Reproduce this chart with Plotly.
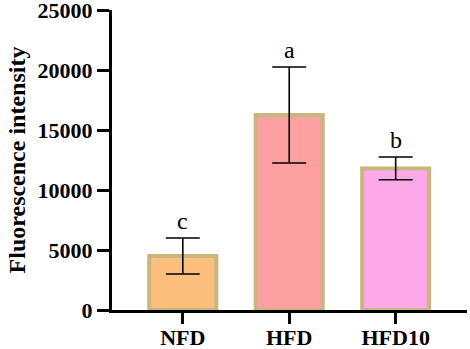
import plotly.graph_objects as go

categories = ["NFD", "HFD", "HFD10"]
means = [4500, 16250, 11800]
errors = [1500, 4000, 950]
letters = ["c", "a", "b"]
fill_colors = ["#FDBF7E", "#FDA0A2", "#FDA9E9"]
border_color = "#C8B67C"
y_ticks = [0, 5000, 10000, 15000, 20000, 25000]

fig = go.Figure()
fig.add_trace(go.Bar(
    x=categories, y=means, width=0.63,
    marker=dict(color=fill_colors, line=dict(color=border_color, width=4)),
    error_y=dict(type="data", array=errors, visible=True, color="black",
                 thickness=1.6, width=17),
    showlegend=False,
))

for c, m, e, t in zip(categories, means, errors, letters):
    fig.add_annotation(x=c, y=m + e, text=t, showarrow=False, yanchor="bottom",
                       yshift=2, font=dict(family="Liberation Serif", size=24, color="black"))

fig.update_layout(
    width=470, height=349,
    margin=dict(l=112, r=3, t=10, b=39),
    plot_bgcolor="white", paper_bgcolor="white",
    font=dict(family="Liberation Serif", color="black"),
)
fig.update_xaxes(
    range=[-0.665, 2.67], showline=True, linewidth=3, linecolor="black",
    ticks="outside", ticklen=11, tickwidth=3, tickcolor="black",
    tickfont=dict(family="Liberation Serif", size=22, color="black", weight="bold"),
    ticklabelstandoff=-5, ticklabeloverflow="allow",
    showgrid=False, zeroline=False, automargin=False,
)
fig.update_yaxes(
    range=[0, 25001], tickvals=y_ticks, ticktext=[str(v) for v in y_ticks],
    showline=True, linewidth=3, linecolor="black",
    ticks="outside", ticklen=12, tickwidth=3, tickcolor="black",
    tickfont=dict(family="Liberation Serif", size=22, color="black", weight="bold"),
    ticklabeloverflow="allow",
    title=dict(text="Fluorescence intensity", standoff=6,
               font=dict(family="Liberation Serif", size=24, color="black", weight="bold")),
    showgrid=False, zeroline=False, automargin=False,
)

fig.write_html("out.html", config={"displayModeBar": False},
               post_script="document.body.style.margin='0';")
